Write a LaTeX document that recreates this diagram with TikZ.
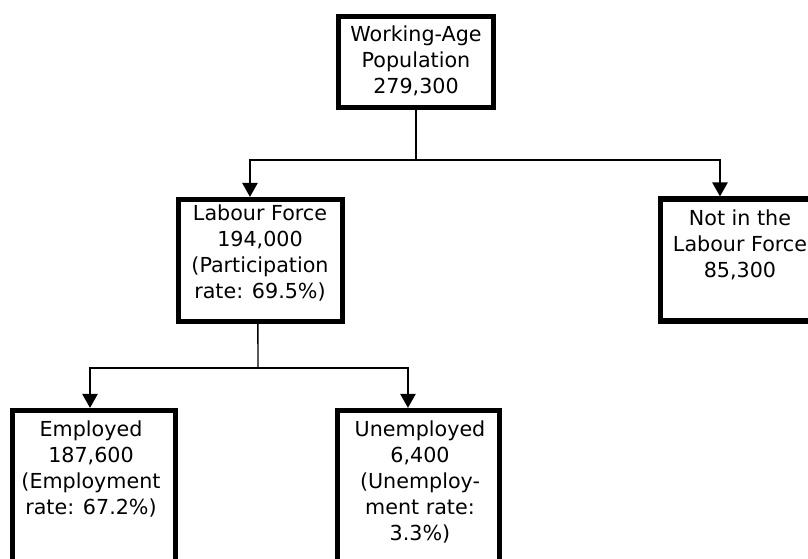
\documentclass[tikz,border=0pt]{standalone}
\usepackage{fontspec}
\setmainfont{DejaVu Sans}
\usetikzlibrary{arrows.meta}
\begin{document}
\begin{tikzpicture}[x=0.75pt,y=-0.75pt,
  box/.style={draw=black, line width=3.9pt, rectangle, inner sep=0pt},
  txt/.style={align=center, inner sep=0pt, font=\fontsize{15.5pt}{19.5pt}\selectfont},
  conn/.style={line width=1.1pt},
  arr/.style={line width=1.1pt, -{Triangle[length=10.5pt,width=11.5pt]}}]
\useasboundingbox (0,0) rectangle (808,558);
\clip (0,0) rectangle (808,558);
% boxes
\node[box, minimum width=116.25pt, minimum height=68.25pt] (top) at (416,62) {};
\node[box, minimum width=123pt, minimum height=91.5pt] (lf) at (260.5,260.5) {};
\node[box, minimum width=119.25pt, minimum height=91.5pt] (nlf) at (740,260) {};
\node[box, minimum width=122.25pt, minimum height=131.25pt] (emp) at (94,498) {};
\node[box, minimum width=121.5pt, minimum height=131.25pt] (unemp) at (418.5,498) {};
% texts
\node[txt] (toptext) at (416,61) {Working-Age\\Population\\279,300};
\node[txt] (lftext) at (260,253) {Labour Force\\194,000\\(Participation\\rate: 69.5\%)};
\node[txt] (nlftext) at (740,245) {Not in the\\Labour Force\\85,300};
\node[txt] (emptext) at (91,469) {Employed\\187,600\\(Employment\\rate: 67.2\%)};
\node[txt] (unemptext) at (420,482) {Unemployed\\6,400\\(Unemploy-\\ment rate:\\3.3\%)};
% connectors
\coordinate (j1) at (416,160);
\draw[conn] (top.south) -- (j1);
\draw[arr] (j1) -| ([xshift=-7.9pt]lf.north);
\draw[arr] (j1) -| ([xshift=-15pt]nlf.north);
\coordinate (j2) at (258,368);
\draw[conn] ([xshift=-1.9pt]lf.south) -- (j2);
\draw[arr] (j2) -| ([xshift=-3pt]emp.north);
\draw[arr] (j2) -| ([xshift=-7.9pt]unemp.north);
\end{tikzpicture}
\end{document}
